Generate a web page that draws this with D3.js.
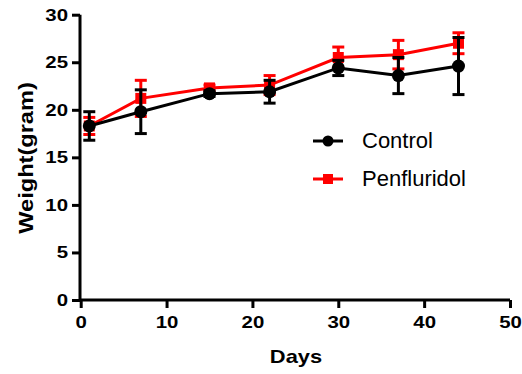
<!DOCTYPE html>
<html>
<head>
<script src="https://d3js.org/d3.v7.min.js"></script>
<style>
  body { margin: 0; background: #fff; font-family: "Liberation Sans", Arial, sans-serif; }
</style>
</head>
<body>
<script>
// data
var days = [1, 7, 15, 22, 30, 37, 44];
var controlMean = [18.3, 19.8, 21.7, 21.9, 24.4, 23.6, 24.6];
var controlErr  = [1.5, 2.3, 0.3, 1.2, 0.8, 1.9, 3.0];
var penfMean    = [18.3, 21.2, 22.3, 22.6, 25.5, 25.8, 27.0];
var penfErr     = [0.9, 1.9, 0.3, 1.0, 1.1, 1.5, 1.1];
var xTicks = [0, 10, 20, 30, 40, 50];
var yTicks = [0, 5, 10, 15, 20, 25, 30];
var seriesNames = ["Control", "Penfluridol"];

var width = 522, height = 374;
var svg = d3.select("body").append("svg")
  .attr("width", width).attr("height", height);

var x = d3.scaleLinear().domain([0, 50]).range([80.7, 510]);
var y = d3.scaleLinear().domain([0, 30]).range([300, 14.7]);

// the original's bold labels are a bit wider than Liberation Sans
function stretch(sel, k) {
  sel.each(function() {
    var len = this.getComputedTextLength();
    d3.select(this).attr("textLength", len * k).attr("lengthAdjust", "spacingAndGlyphs");
  });
}

// axes
var xAxis = svg.append("g").attr("transform", "translate(0,300)")
  .call(d3.axisBottom(x).tickValues(xTicks).tickSize(8).tickPadding(8));
var yAxis = svg.append("g").attr("transform", "translate(80,0)")
  .call(d3.axisLeft(y).tickValues(yTicks).tickSize(8).tickPadding(4));

[xAxis, yAxis].forEach(function(a) {
  a.select(".domain").attr("stroke", "#000").attr("stroke-width", 3);
  a.selectAll(".tick line").attr("stroke", "#000").attr("stroke-width", 3);
  a.selectAll(".tick text").attr("fill", "#000")
    .style("font-size", "17px").style("font-weight", "bold")
    .style("font-family", "Liberation Sans, Arial, sans-serif")
    .call(stretch, 1.2);
});
xAxis.select(".domain").attr("d", "M" + x(0) + ",0H" + x(50));
yAxis.select(".domain").attr("d", "M0," + y(0) + "V" + y(30));

svg.append("text").attr("x", 296).attr("y", 363)
  .attr("text-anchor", "middle")
  .style("font-size", "19px").style("font-weight", "bold")
  .text("Days").call(stretch, 1.15);
svg.append("text")
  .attr("transform", "translate(33,158) rotate(-90)")
  .attr("text-anchor", "middle")
  .style("font-size", "20px").style("font-weight", "bold")
  .text("Weight(gram)").call(stretch, 1.18);

function drawSeries(means, errs, color, shape) {
  var pts = days.map(function(d, i) { return {d: d, m: means[i], e: errs[i]}; });
  var g = svg.append("g");
  g.append("path").datum(pts)
    .attr("fill", "none").attr("stroke", color).attr("stroke-width", 3)
    .attr("d", d3.line().x(function(p) { return x(p.d); }).y(function(p) { return y(p.m); }));
  var eb = g.selectAll(".eb").data(pts).enter().append("g")
    .attr("stroke", color).attr("stroke-width", 3);
  eb.append("line")
    .attr("x1", function(p) { return x(p.d); }).attr("x2", function(p) { return x(p.d); })
    .attr("y1", function(p) { return y(p.m - p.e); }).attr("y2", function(p) { return y(p.m + p.e); });
  [-1, 1].forEach(function(s) {
    eb.append("line")
      .attr("x1", function(p) { return x(p.d) - 6; }).attr("x2", function(p) { return x(p.d) + 6; })
      .attr("y1", function(p) { return y(p.m + s * p.e); }).attr("y2", function(p) { return y(p.m + s * p.e); });
  });
  if (shape === "circle") {
    g.selectAll(".mk").data(pts).enter().append("circle")
      .attr("cx", function(p) { return x(p.d); }).attr("cy", function(p) { return y(p.m); })
      .attr("r", 6.5).attr("fill", color);
  } else {
    g.selectAll(".mk").data(pts).enter().append("rect")
      .attr("x", function(p) { return x(p.d) - 5.5; }).attr("y", function(p) { return y(p.m) - 5.5; })
      .attr("width", 11).attr("height", 11).attr("fill", color);
  }
}

drawSeries(penfMean, penfErr, "#ff0000", "square");
drawSeries(controlMean, controlErr, "#000000", "circle");

// legend
var legend = [
  {name: seriesNames[0], color: "#000000", shape: "circle", cy: 141},
  {name: seriesNames[1], color: "#ff0000", shape: "square", cy: 179}
];
legend.forEach(function(l) {
  svg.append("line").attr("x1", 313).attr("x2", 343).attr("y1", l.cy).attr("y2", l.cy)
    .attr("stroke", l.color).attr("stroke-width", 3);
  if (l.shape === "circle") {
    svg.append("circle").attr("cx", 328).attr("cy", l.cy).attr("r", 5.5).attr("fill", l.color);
  } else {
    svg.append("rect").attr("x", 323).attr("y", l.cy - 5).attr("width", 10).attr("height", 10).attr("fill", l.color);
  }
  svg.append("text").attr("x", 362).attr("y", l.cy + 6.5)
    .style("font-size", "22px").text(l.name);
});
</script>
</body>
</html>
